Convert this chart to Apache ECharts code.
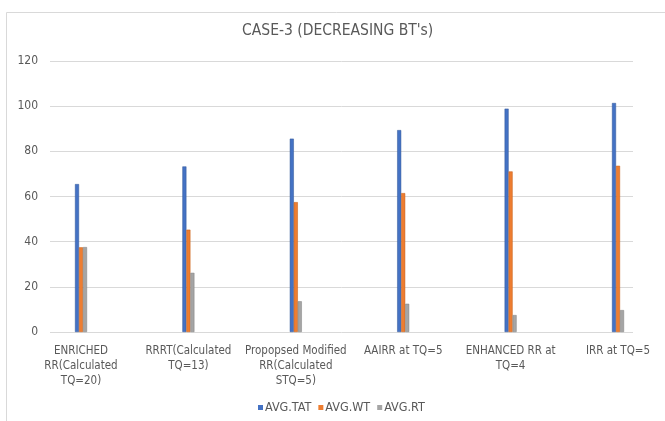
<!DOCTYPE html>
<html>
<head>
<meta charset="utf-8">
<script src="https://cdn.jsdelivr.net/npm/echarts@6/dist/echarts.min.js"></script>
<style>
  html, body { margin: 0; padding: 0; background: #ffffff; }
  #chart { width: 665px; height: 421px; }
</style>
</head>
<body>
<div id="chart"></div>
<script>
// Scheduling algorithms compared in case 3 (decreasing burst times)
const categories = [
  'ENRICHED\nRR(Calculated\nTQ=20)',
  'RRRT(Calculated\nTQ=13)',
  'Propopsed Modified\nRR(Calculated\nSTQ=5)',
  'AAIRR at TQ=5',
  'ENHANCED RR at\nTQ=4',
  'IRR at TQ=5'
];
const seriesNames = ['AVG.TAT', 'AVG.WT', 'AVG.RT'];
const avgTAT = [65.5, 73.3, 85.6, 89.4, 98.9, 101.4];
const avgWT = [37.5, 45.3, 57.5, 61.5, 71.1, 73.6];
const avgRT = [37.6, 26.2, 13.6, 12.5, 7.5, 9.7];
const yTicks = { min: 0, max: 120, interval: 20 };

const colors = ['#4472C4', '#ED7D31', '#A5A5A5'];
const edges = ['#2F5597', '#C55A11', '#7F7F7F'];
const font = '"Liberation Sans Narrow", "DejaVu Sans Condensed", "Liberation Sans", sans-serif';

const chart = echarts.init(document.getElementById('chart'), null, { renderer: 'canvas' });

const values = [avgTAT, avgWT, avgRT];

chart.setOption({
  animation: false,
  backgroundColor: '#ffffff',
  graphic: [{
    type: 'rect',
    shape: { x: 6.5, y: 12.5, width: 700, height: 460 },
    style: { fill: 'none', stroke: '#d9d9d9', lineWidth: 1 },
    silent: true,
    z: -10
  }],
  title: {
    text: "CASE-3 (DECREASING BT's)",
    left: 237,
    top: 18,
    textStyle: { fontFamily: font, fontSize: 15.5, fontWeight: 'normal', color: '#595959' }
  },
  legend: {
    data: seriesNames,
    bottom: 2,
    left: 253,
    itemWidth: 5,
    itemHeight: 5,
    itemGap: 7,
    icon: 'rect',
    itemStyle: { borderWidth: 0 },
    textStyle: { fontFamily: font, fontSize: 12.5, color: '#595959', padding: [0, 0, 0, -3] }
  },
  grid: [
    { left: 81, right: 47, top: 61, bottom: 89 },
    { left: 50, right: 32, top: 61, bottom: 89 }
  ],
  xAxis: [
    {
      type: 'category',
      gridIndex: 0,
      data: categories,
      boundaryGap: false,
      axisLine: { show: false },
      axisTick: { show: false },
      axisLabel: {
        margin: 12,
        interval: 0,
        fontFamily: font,
        fontSize: 11.5,
        lineHeight: 15,
        color: '#595959',
        align: 'center'
      }
    },
    {
      type: 'value',
      gridIndex: 1,
      show: false,
      min: 0,
      max: 1
    }
  ],
  yAxis: [
    {
      type: 'value',
      gridIndex: 0,
      min: yTicks.min,
      max: yTicks.max,
      interval: yTicks.interval,
      show: false
    },
    {
      type: 'value',
      gridIndex: 1,
      min: yTicks.min,
      max: yTicks.max,
      interval: yTicks.interval,
      axisLine: { show: false },
      axisTick: { show: false },
      axisLabel: { margin: 12, fontFamily: font, fontSize: 12, color: '#595959' },
      splitLine: { lineStyle: { color: '#d9d9d9', width: 1 } }
    }
  ],
  series: seriesNames.map((name, i) => ({
    name,
    type: 'bar',
    xAxisIndex: 0,
    yAxisIndex: 0,
    data: values[i],
    barWidth: 4,
    barGap: '0%',
    itemStyle: { color: colors[i], borderColor: edges[i], borderWidth: 0.5 }
  }))
});
</script>
</body>
</html>
